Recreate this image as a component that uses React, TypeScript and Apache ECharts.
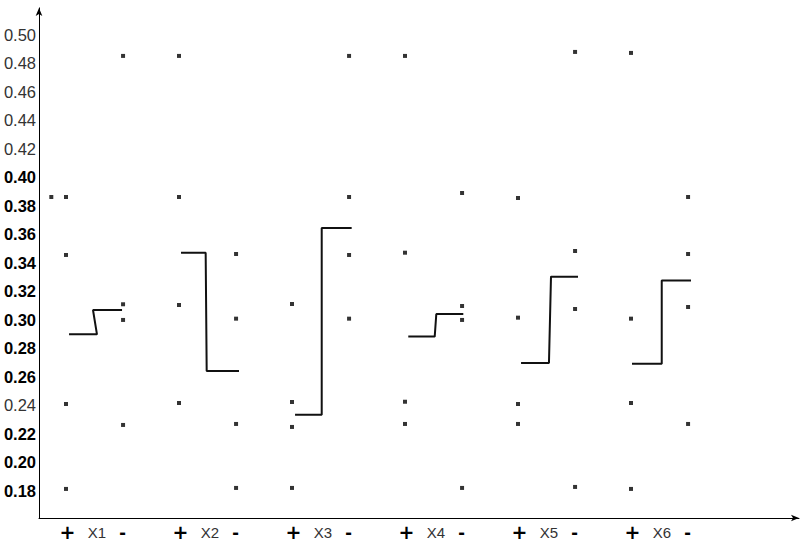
import React, { useEffect, useRef } from "react";
import * as echarts from "echarts";

// ---------- data ----------
const factors = ["X1", "X2", "X3", "X4", "X5", "X6"];

// observations at the "+" level of each factor
const plusValues: number[][] = [
  [0.3863, 0.3863, 0.3456, 0.241, 0.1814],
  [0.4853, 0.3863, 0.3105, 0.2417],
  [0.3112, 0.2424, 0.2249, 0.1821],
  [0.4853, 0.3472, 0.2426, 0.227],
  [0.3856, 0.3016, 0.241, 0.227],
  [0.4874, 0.3009, 0.2417, 0.1814],
];

// observations at the "-" level of each factor
const minusValues: number[][] = [
  [0.4853, 0.311, 0.3, 0.2263],
  [0.3463, 0.3009, 0.227, 0.1821],
  [0.4853, 0.3863, 0.3456, 0.3009],
  [0.3891, 0.3098, 0.3, 0.1821],
  [0.4881, 0.3484, 0.3077, 0.1828],
  [0.3863, 0.3463, 0.3091, 0.227],
];

// level lines (step from "+" level to "-" level)
const plusLevel = [0.2899, 0.3472, 0.2335, 0.2883, 0.2698, 0.2693];
const minusLevel = [0.307, 0.2642, 0.3645, 0.3042, 0.3304, 0.3276];

const yTicks = [0.18, 0.2, 0.22, 0.24, 0.26, 0.28, 0.3, 0.32, 0.34, 0.36, 0.38, 0.4, 0.42, 0.44, 0.46, 0.48, 0.5];
const thinTicks = [0.5, 0.48, 0.46, 0.44, 0.42, 0.24];

// ---------- layout (in group units along the x axis) ----------
const MINUS_OFFSET = 0.505;
const DUP_SHIFT = -0.13;
const stepStart = [0.027, 0.018, 0.027, 0.029, 0.027, 0.009];
const stepMidA = [0.274, 0.236, 0.263, 0.263, 0.274, 0.272];
const stepMidB = [0.239, 0.245, 0.263, 0.277, 0.292, 0.272];
const stepEnd = [0.496, 0.531, 0.528, 0.516, 0.531, 0.531];
const LABEL_PLUS = 0.013;
const LABEL_NAME = 0.274;
const LABEL_MINUS = 0.5;

function columnPoints(values: number[], x: number): number[][] {
  const seen: Record<string, number> = {};
  return values.map((v) => {
    const k = v.toFixed(4);
    const n = seen[k] || 0;
    seen[k] = n + 1;
    return [x + n * DUP_SHIFT, v];
  });
}

export default function App() {
  const ref = useRef<HTMLDivElement>(null);

  useEffect(() => {
    if (!ref.current) return;
    const chart = echarts.init(ref.current, undefined, { renderer: "svg" });

    const dots: number[][] = [];
    factors.forEach((_, i) => {
      dots.push(...columnPoints(plusValues[i], i));
      dots.push(...columnPoints(minusValues[i], i + MINUS_OFFSET));
    });

    const stepSeries = factors.map((f, i) => ({
      type: "line",
      name: f,
      data: [
        [i + stepStart[i], plusLevel[i]],
        [i + stepMidA[i], plusLevel[i]],
        [i + stepMidB[i], minusLevel[i]],
        [i + stepEnd[i], minusLevel[i]],
      ],
      symbol: "none",
      lineStyle: { color: "#111", width: 2 },
      silent: true,
      z: 3,
    }));

    const xLabels: { v: number; t: string }[] = [];
    factors.forEach((f, i) => {
      xLabels.push({ v: i + LABEL_PLUS, t: `{p|+}` });
      xLabels.push({ v: i + LABEL_NAME, t: `{n|${f}}` });
      xLabels.push({ v: i + LABEL_MINUS, t: `{m|-}` });
    });

    const option: any = {
      animation: false,
      backgroundColor: "#fff",
      grid: { left: 39, right: 6, top: 7.9, bottom: 26, containLabel: false },
      xAxis: {
        type: "value",
        min: -0.2389,
        max: 6.4867,
        axisLine: {
          show: true,
          onZero: false,
          symbol: ["none", "arrow"],
          symbolSize: [5, 8],
          lineStyle: { color: "#000", width: 1 },
        },
        axisTick: { show: false },
        splitLine: { show: false },
        axisLabel: {
          customValues: xLabels.map((d) => d.v),
          margin: 6,
          formatter: (v: number) => {
            let best = xLabels[0];
            xLabels.forEach((d) => {
              if (Math.abs(d.v - v) < Math.abs(best.v - v)) best = d;
            });
            return best.t;
          },
          rich: {
            p: { fontFamily: "DejaVu Sans", fontSize: 19, fontWeight: "bold", color: "#000", lineHeight: 16 },
            n: { fontFamily: "Liberation Sans", fontSize: 15, color: "#333", lineHeight: 16 },
            m: { fontFamily: "Liberation Sans", fontSize: 20, fontWeight: "bold", color: "#000", lineHeight: 16 },
          },
        },
      },
      yAxis: {
        type: "value",
        min: 0.161,
        max: 0.519,
        axisLine: {
          show: true,
          onZero: false,
          symbol: ["none", "arrow"],
          symbolSize: [5, 8],
          lineStyle: { color: "#000", width: 1 },
        },
        axisTick: { show: false },
        splitLine: { show: false },
        axisLabel: {
          customValues: yTicks,
          margin: 3,
          formatter: (v: number) => {
            const thin = thinTicks.some((t) => Math.abs(t - v) < 1e-6);
            return thin ? `{t|${v.toFixed(2)}}` : `{b|${v.toFixed(2)}}`;
          },
          rich: {
            t: { fontFamily: "Liberation Sans", fontSize: 16.5, color: "#333" },
            b: { fontFamily: "Liberation Sans", fontSize: 16.5, fontWeight: "bold", color: "#000" },
          },
        },
      },
      series: [
        {
          type: "scatter",
          data: dots,
          symbol: "rect",
          symbolSize: 4,
          itemStyle: { color: "#000" },
          silent: true,
          z: 4,
        },
        ...stepSeries,
      ],
    };

    chart.setOption(option);
    return () => chart.dispose();
  }, []);

  return (
    <div
      ref={ref}
      style={{ position: "fixed", left: 0, top: 0, width: 805, height: 544, background: "#fff" }}
    />
  );
}
